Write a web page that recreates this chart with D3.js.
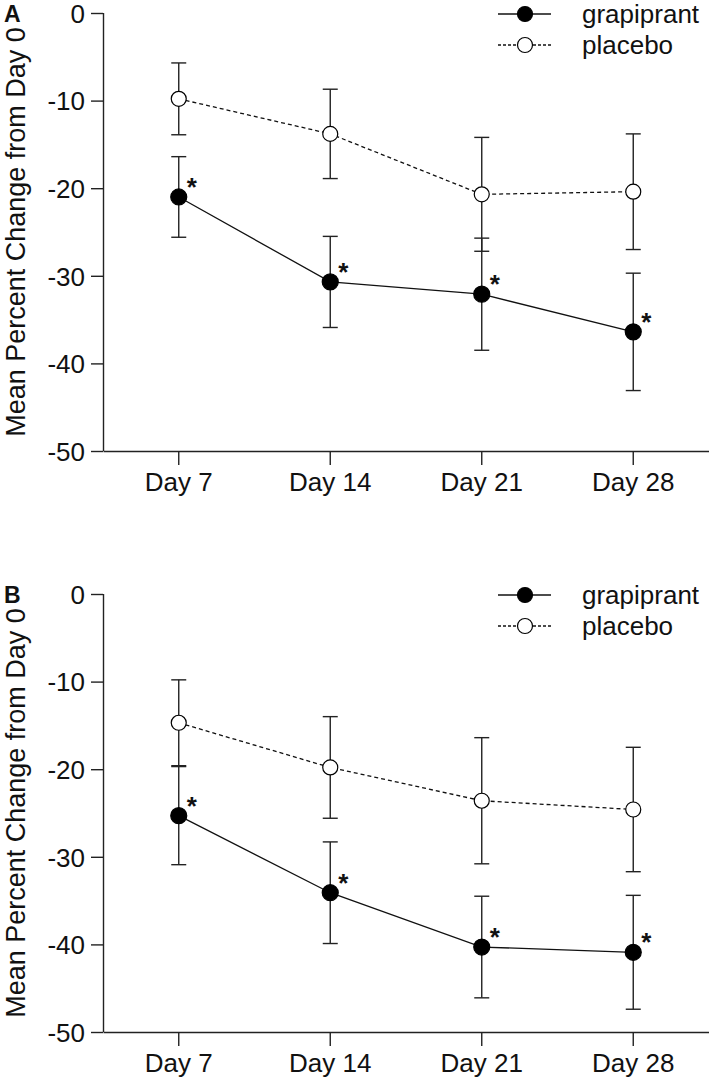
<!DOCTYPE html>
<html>
<head>
<meta charset="utf-8">
<script src="https://cdn.jsdelivr.net/npm/d3@7"></script>
<style>
  body { margin: 0; background: #fff; }
  svg { display: block; }
  text { font-family: "Liberation Sans", Arial, sans-serif; fill: #111; }
</style>
</head>
<body>
<script>
// categories and ticks
var days = ["Day 7", "Day 14", "Day 21", "Day 28"];
var yTicks = [0, -10, -20, -30, -40, -50];

// panel A values (mean, error)
var grapiA = [-21.0, -30.7, -32.1, -36.4];
var grapiAErr = [4.6, 5.2, 6.4, 6.7];
var placeboA = [-9.8, -13.8, -20.7, -20.4];
var placeboAErr = [4.1, 5.1, 6.5, 6.6];

// panel B values
var grapiB = [-25.3, -34.1, -40.3, -40.9];
var grapiBErr = [5.6, 5.8, 5.8, 6.5];
var placeboB = [-14.7, -19.8, -23.6, -24.6];
var placeboBErr = [4.9, 5.8, 7.2, 7.1];

var w = 709, h = 1083;

var svg = d3.select("body").append("svg")
  .attr("width", w)
  .attr("height", h);

function drawPanel(label, top, grapi, grapiErr, placebo, placeboErr) {
  var left = 103, bottom = top + 438;

  var x = d3.scaleBand().domain(days).range([left, w]);
  var y = d3.scaleLinear().domain([0, -50]).range([top, bottom]);
  var cx = function(i) { return x(days[i]) + x.bandwidth() / 2; };

  var g = svg.append("g");

  // y axis, hyphen instead of unicode minus like the original
  var yAxis = g.append("g")
    .attr("transform", "translate(" + left + ",0)")
    .call(d3.axisLeft(y).tickValues(yTicks).tickSize(12).tickPadding(6)
      .tickFormat(function(d) { return String(d); }));
  // x axis
  var xAxis = g.append("g")
    .attr("transform", "translate(0," + bottom + ")")
    .call(d3.axisBottom(x).tickSize(14).tickPadding(8).tickSizeOuter(0));

  [yAxis, xAxis].forEach(function(a) {
    a.select(".domain").attr("stroke", "#222").attr("stroke-width", 1.4);
    a.selectAll(".tick line").attr("stroke", "#222").attr("stroke-width", 1.4);
    a.selectAll("text").attr("font-size", 26).attr("fill", "#111")
      .style("font-family", "'Liberation Sans', Arial, sans-serif");
  });
  yAxis.select(".domain").attr("d", "M0.5," + top + "V" + bottom);
  yAxis.selectAll(".tick text").attr("dy", "0.36em");

  // axis title
  g.append("text")
    .attr("transform", "translate(25," + (top + bottom) / 2 + ") rotate(-90)")
    .attr("text-anchor", "middle")
    .attr("font-size", 27)
    .text("Mean Percent Change from Day 0");

  // panel letter
  g.append("text")
    .attr("x", 4).attr("y", top + 9)
    .attr("font-size", 23).attr("font-weight", "bold")
    .text(label);

  var series = [
    { vals: placebo, err: placeboErr, dash: "4,3", fill: "#fff" },
    { vals: grapi, err: grapiErr, dash: null, fill: "#000" }
  ];

  series.forEach(function(s) {
    // error bars
    s.vals.forEach(function(v, i) {
      var xx = cx(i), y1 = y(v + s.err[i]), y2 = y(v - s.err[i]);
      g.append("line").attr("x1", xx).attr("x2", xx).attr("y1", y1).attr("y2", y2)
        .attr("stroke", "#222").attr("stroke-width", 1.4);
      [y1, y2].forEach(function(yy) {
        g.append("line").attr("x1", xx - 7.5).attr("x2", xx + 7.5).attr("y1", yy).attr("y2", yy)
          .attr("stroke", "#222").attr("stroke-width", 1.4);
      });
    });
  });

  series.forEach(function(s) {
    var line = d3.line().x(function(d, i) { return cx(i); }).y(function(d) { return y(d); });
    g.append("path").datum(s.vals)
      .attr("d", line)
      .attr("fill", "none")
      .attr("stroke", "#111")
      .attr("stroke-width", 1.3)
      .attr("stroke-dasharray", s.dash);
    g.selectAll(null).data(s.vals).enter().append("circle")
      .attr("cx", function(d, i) { return cx(i); })
      .attr("cy", function(d) { return y(d); })
      .attr("r", s.fill === "#000" ? 8 : 7.5)
      .attr("fill", s.fill)
      .attr("stroke", "#000")
      .attr("stroke-width", 1.2);
  });

  // significance stars
  g.selectAll(null).data(grapi).enter().append("text")
    .attr("x", function(d, i) { return cx(i) + 13; })
    .attr("y", function(d) { return y(d) - 1; })
    .attr("text-anchor", "middle")
    .attr("font-size", 26).attr("font-weight", "bold")
    .text("*");

  // legend
  var leg = g.append("g").attr("transform", "translate(0," + top + ")");
  var items = [
    { name: "grapiprant", dash: null, fill: "#000", yy: 1 },
    { name: "placebo", dash: "3,2", fill: "#fff", yy: 32 }
  ];
  items.forEach(function(it) {
    leg.append("line").attr("x1", 498).attr("x2", 551).attr("y1", it.yy).attr("y2", it.yy)
      .attr("stroke", "#111").attr("stroke-width", 1.4).attr("stroke-dasharray", it.dash);
    leg.append("circle").attr("cx", 525).attr("cy", it.yy).attr("r", 7.5)
      .attr("fill", it.fill).attr("stroke", "#000").attr("stroke-width", 1.2);
    leg.append("text").attr("x", 582).attr("y", it.yy + 9)
      .attr("font-size", 26).text(it.name);
  });
}

drawPanel("A", 13, grapiA, grapiAErr, placeboA, placeboAErr);
drawPanel("B", 594, grapiB, grapiBErr, placeboB, placeboBErr);
</script>
</body>
</html>
